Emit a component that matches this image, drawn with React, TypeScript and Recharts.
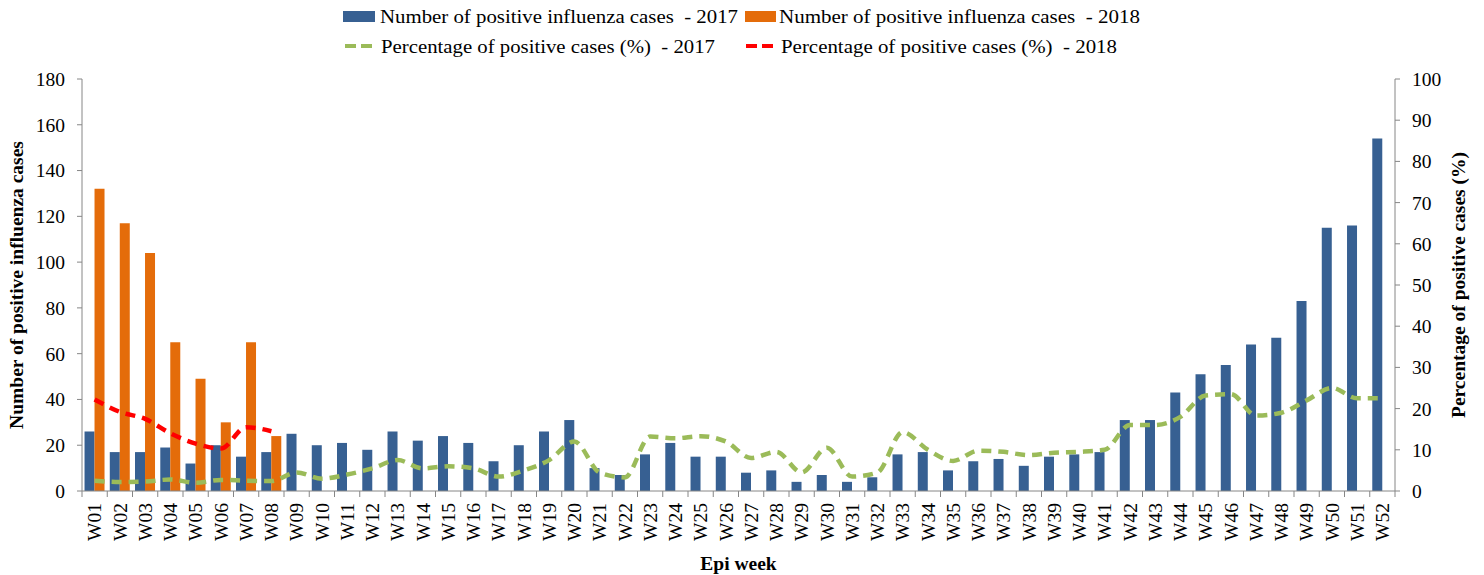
import {
  ComposedChart,
  Bar,
  Line,
  XAxis,
  YAxis,
} from 'recharts'

const weeks = [
  'W01', 'W02', 'W03', 'W04', 'W05', 'W06', 'W07', 'W08', 'W09', 'W10',
  'W11', 'W12', 'W13', 'W14', 'W15', 'W16', 'W17', 'W18', 'W19', 'W20',
  'W21', 'W22', 'W23', 'W24', 'W25', 'W26', 'W27', 'W28', 'W29', 'W30',
  'W31', 'W32', 'W33', 'W34', 'W35', 'W36', 'W37', 'W38', 'W39', 'W40',
  'W41', 'W42', 'W43', 'W44', 'W45', 'W46', 'W47', 'W48', 'W49', 'W50',
  'W51', 'W52',
]

const cases2017 = [
  26, 17, 17, 19, 12, 20, 15, 17, 25, 20,
  21, 18, 26, 22, 24, 21, 13, 20, 26, 31,
  10, 7, 16, 21, 15, 15, 8, 9, 4, 7,
  4, 6, 16, 17, 9, 13, 14, 11, 15, 16,
  17, 31, 31, 43, 51, 55, 64, 67, 83, 115,
  116, 154,
]

const cases2018 = [132, 117, 104, 65, 49, 30, 65, 24]

const pct2017 = [
  2.5, 2.2, 2.3, 2.8, 2.0, 2.7, 2.5, 2.4, 4.5, 3.0,
  4.0, 5.5, 7.5, 5.5, 6.0, 5.5, 3.5, 5.0, 7.5, 12.0,
  4.5, 3.3, 13.2, 12.8, 13.3, 12.0, 8.0, 9.5, 4.5, 10.5,
  3.5, 4.5, 14.3, 10.0, 7.3, 9.8, 9.5, 8.7, 9.3, 9.5,
  10.0, 16.0, 16.0, 18.0, 23.2, 23.5, 18.3, 19.0, 22.0, 25.0,
  22.5, 22.5,
]

const pct2018 = [22.2, 19.2, 17.5, 14.0, 11.5, 10.3, 15.5, 14.5]

const leftTicks = [0, 20, 40, 60, 80, 100, 120, 140, 160, 180]
const rightTicks = [0, 10, 20, 30, 40, 50, 60, 70, 80, 90, 100]

const legendLabels = [
  'Number of positive influenza cases  - 2017',
  'Number of positive influenza cases  - 2018',
  'Percentage of positive cases (%)  - 2017',
  'Percentage of positive cases (%)  - 2018',
]

const data = weeks.map((w, i) => ({
  week: w,
  c17: cases2017[i],
  c18: cases2018[i] ?? null,
  p17: pct2017[i],
  p18: pct2018[i] ?? null,
}))

const FONT = '"Liberation Serif", "Times New Roman", serif'
const AXIS = '#868686'
const BLUE = '#376092'
const ORANGE = '#E46C0A'
const GREEN = '#9BBB59'
const RED = '#FF0000'

function WeekTick(props: any) {
  const { x, y, payload, index } = props
  const off = payload?.offset ?? 12.6
  return (
    <g>
      <line x1={x - off} y1={y} x2={x - off} y2={y + 6} stroke={AXIS} />
      {index === weeks.length - 1 && (
        <line x1={x + off} y1={y} x2={x + off} y2={y + 6} stroke={AXIS} />
      )}
      <text
        x={x}
        y={y + 12}
        transform={`rotate(-90, ${x}, ${y + 12})`}
        textAnchor="end"
        dy="0.35em"
        fontFamily={FONT}
        fontSize={19.5}
        fill="#000"
      >
        {payload.value}
      </text>
    </g>
  )
}

// legend drawn as a plain svg overlay, two columns like the original
function ChartLegend() {
  const txt = { fontFamily: FONT, fontSize: 19.5, fill: '#000' }
  return (
    <svg width={1484} height={62} style={{ position: 'absolute', left: 0, top: 0 }}>
      <rect x={343} y={11} width={32} height={11} fill={BLUE} />
      <text x={380} y={23} {...txt} textLength={358} lengthAdjust="spacingAndGlyphs" xmlSpace="preserve">
        {legendLabels[0]}
      </text>
      <rect x={745} y={11} width={31} height={11} fill={ORANGE} />
      <text x={779} y={23} {...txt} textLength={361} lengthAdjust="spacingAndGlyphs" xmlSpace="preserve">
        {legendLabels[1]}
      </text>
      <line x1={345} y1={46} x2={372} y2={46} stroke={GREEN} strokeWidth={4} strokeDasharray="11 5" />
      <text x={381} y={53} {...txt} textLength={334} lengthAdjust="spacingAndGlyphs" xmlSpace="preserve">
        {legendLabels[2]}
      </text>
      <line x1={746} y1={46} x2={773} y2={46} stroke={RED} strokeWidth={4} strokeDasharray="11 5" />
      <text x={781} y={53} {...txt} textLength={336} lengthAdjust="spacingAndGlyphs" xmlSpace="preserve">
        {legendLabels[3]}
      </text>
    </svg>
  )
}

export default function App() {
  return (
    <div style={{ position: 'absolute', left: 0, top: 0, width: 1484, height: 575, background: '#fff' }}>
      <ComposedChart
        width={1484}
        height={575}
        data={data}
        margin={{ top: 79, right: 0, bottom: 0, left: 0 }}
        barCategoryGap="10%"
        barGap={0}
      >
        <XAxis
          dataKey="week"
          interval={0}
          stroke={AXIS}
          tickLine={false}
          tickSize={0}
          tickMargin={0}
          tick={<WeekTick />}
          height={84}
          label={{
            value: 'Epi week',
            position: 'insideBottom',
            offset: 5,
            style: { fontFamily: FONT, fontSize: 19.5, fontWeight: 'bold', fill: '#000' },
          }}
        />
        <YAxis
          yAxisId="left"
          domain={[0, 180]}
          ticks={leftTicks}
          interval={0}
          width={82}
          stroke={AXIS}
          tickSize={5}
          tickMargin={12}
          tick={{ fontFamily: FONT, fontSize: 19.5, fill: '#000' }}
          label={{
            value: 'Number of positive influenza cases',
            angle: -90,
            position: 'insideLeft',
            offset: 16,
            style: { textAnchor: 'middle', fontFamily: FONT, fontSize: 19.5, fontWeight: 'bold', fill: '#000' },
          }}
        />
        <YAxis
          yAxisId="right"
          orientation="right"
          domain={[0, 100]}
          ticks={rightTicks}
          interval={0}
          width={89}
          stroke={AXIS}
          tickSize={5}
          tickMargin={12}
          tick={{ fontFamily: FONT, fontSize: 19.5, fill: '#000' }}
          label={{
            value: 'Percentage of positive cases (%)',
            angle: -90,
            position: 'insideRight',
            offset: 26,
            style: { textAnchor: 'middle', fontFamily: FONT, fontSize: 19.5, fontWeight: 'bold', fill: '#000' },
          }}
        />
        <Bar yAxisId="left" dataKey="c17" name={legendLabels[0]} fill={BLUE} isAnimationActive={false} />
        <Bar yAxisId="left" dataKey="c18" name={legendLabels[1]} fill={ORANGE} isAnimationActive={false} />
        <Line
          yAxisId="right"
          type="monotone"
          dataKey="p17"
          name={legendLabels[2]}
          stroke={GREEN}
          strokeWidth={4.5}
          strokeDasharray="10 7"
          dot={false}
          activeDot={false}
          isAnimationActive={false}
        />
        <Line
          yAxisId="right"
          type="monotone"
          dataKey="p18"
          name={legendLabels[3]}
          stroke={RED}
          strokeWidth={4.5}
          strokeDasharray="10 7"
          dot={false}
          activeDot={false}
          isAnimationActive={false}
        />
      </ComposedChart>
      <ChartLegend />
    </div>
  )
}
